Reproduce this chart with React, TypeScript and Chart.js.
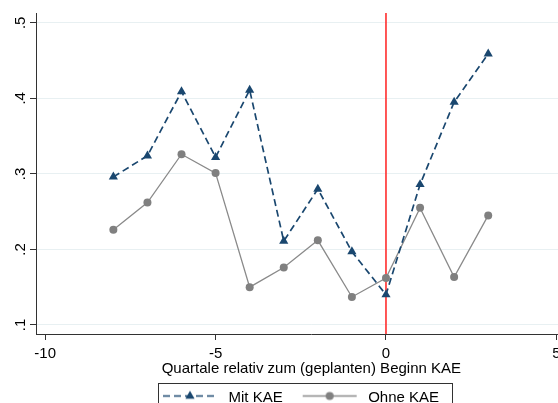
import React, { useEffect, useRef } from 'react';
import { Chart, registerables } from 'chart.js';

Chart.register(...registerables);

// ---- data ----
const quarters = [-8, -7, -6, -5, -4, -3, -2, -1, 0, 1, 2, 3];
const mitKAE = [0.296, 0.324, 0.409, 0.322, 0.411, 0.211, 0.28, 0.197, 0.14, 0.286, 0.395, 0.459];
const ohneKAE = [0.226, 0.262, 0.326, 0.301, 0.15, 0.176, 0.212, 0.137, 0.162, 0.255, 0.1635, 0.245];
const seriesNames = ['Mit KAE', 'Ohne KAE'];
const xTicks = [-10, -5, 0, 5];
const yTicks = [0.1, 0.2, 0.3, 0.4, 0.5];
const yTickLabels = ['.1', '.2', '.3', '.4', '.5'];
const xTitle = 'Quartale relativ zum (geplanten) Beginn KAE';
const eventQuarter = 0;

const X_MIN = -10.27;
const X_MAX = 5.89;
const Y_MIN = 0.088;
const Y_MAX = 0.513;

// ---- style ----
const NAVY = 'rgb(26,71,111)';
const GRAY_M = 'rgb(128,128,128)';
const GRAY_L = 'rgb(138,138,138)';
const RED = 'rgb(255,45,45)';
const AXIS = 'rgb(50,50,50)';
const GRID = 'rgb(232,240,242)';
const FONT = "'Liberation Sans', Arial, sans-serif";
const TRI_R = 5.3;
const CIRC_R = 4;
const DASH = [7, 4];

const W = 592;
const H = 415;

function makeLegendImage(kind: 'tri' | 'circ'): HTMLCanvasElement {
  const c = document.createElement('canvas');
  c.width = 68;
  c.height = 16;
  const g = c.getContext('2d')!;
  const cy = 6.5;
  g.lineWidth = kind === 'tri' ? 1.7 : 1.3;
  g.strokeStyle = kind === 'tri' ? NAVY : GRAY_L;
  if (kind === 'tri') g.setLineDash(DASH);
  g.beginPath();
  g.moveTo(10, cy);
  g.lineTo(64, cy);
  g.stroke();
  g.setLineDash([]);
  const cx = 37;
  if (kind === 'tri') {
    const r = TRI_R;
    g.fillStyle = NAVY;
    g.beginPath();
    g.moveTo(cx, cy - r);
    g.lineTo(cx + r * Math.sin((2 * Math.PI) / 3), cy - r * Math.cos((2 * Math.PI) / 3));
    g.lineTo(cx + r * Math.sin((4 * Math.PI) / 3), cy - r * Math.cos((4 * Math.PI) / 3));
    g.closePath();
    g.fill();
  } else {
    g.fillStyle = GRAY_M;
    g.beginPath();
    g.arc(cx, cy, CIRC_R, 0, Math.PI * 2);
    g.fill();
  }
  return c;
}

const legendBorder = {
  id: 'legendBorder',
  afterDraw(chart: any) {
    const lg = chart.legend;
    if (!lg || !lg.legendHitBoxes || !lg.legendHitBoxes.length) return;
    const hb = lg.legendHitBoxes;
    const first = hb[0];
    const last = hb[hb.length - 1];
    const l = Math.round(first.left + 5) + 0.5;
    const r = Math.round(last.left + last.width + 13) + 0.5;
    const t = Math.round(first.top - 7) + 0.5;
    const b = Math.round(first.top + first.height + 10) + 0.5;
    const ctx = chart.ctx;
    ctx.save();
    ctx.strokeStyle = AXIS;
    ctx.lineWidth = 1;
    ctx.strokeRect(l, t, r - l, b - t);
    ctx.restore();
  },
};

export default function App() {
  const ref = useRef<HTMLCanvasElement>(null);

  useEffect(() => {
    const canvas = ref.current!;
    const images = [makeLegendImage('tri'), makeLegendImage('circ')];
    Chart.defaults.font.family = FONT;
    Chart.defaults.font.size = 15;
    Chart.defaults.color = '#000';

    const chart = new Chart(canvas, {
      type: 'line',
      data: {
        datasets: [
          {
            label: seriesNames[0],
            data: quarters.map((q, i) => ({ x: q, y: mitKAE[i] })),
            borderColor: NAVY,
            backgroundColor: NAVY,
            borderWidth: 1.7,
            borderDash: DASH,
            pointStyle: 'triangle',
            pointRadius: TRI_R,
            pointBorderWidth: 0,
            pointBackgroundColor: NAVY,
            tension: 0,
          },
          {
            label: seriesNames[1],
            data: quarters.map((q, i) => ({ x: q, y: ohneKAE[i] })),
            borderColor: GRAY_L,
            backgroundColor: GRAY_M,
            borderWidth: 1.3,
            pointStyle: 'circle',
            pointRadius: CIRC_R,
            pointBorderWidth: 0,
            pointBackgroundColor: GRAY_M,
            tension: 0,
          },
          {
            label: 'event',
            data: [
              { x: eventQuarter, y: Y_MIN },
              { x: eventQuarter, y: Y_MAX },
            ],
            borderColor: RED,
            borderWidth: 1.6,
            pointRadius: 0,
            tension: 0,
          },
        ],
      },
      options: {
        animation: false,
        responsive: false,
        devicePixelRatio: 1,
        events: [],
        layout: { padding: { top: 13, left: 0, right: 0, bottom: 0 } },
        scales: {
          x: {
            type: 'linear',
            min: X_MIN,
            max: X_MAX,
            afterBuildTicks: (s: any) => {
              s.ticks = xTicks.map((v) => ({ value: v }));
            },
            afterFit: (s: any) => {
              s.height = 46;
            },
            grid: { drawOnChartArea: false, drawTicks: true, tickLength: 6, color: AXIS, tickColor: AXIS },
            border: { display: true, color: AXIS, width: 1 },
            ticks: {
              autoSkip: false,
              maxRotation: 0,
              padding: 5,
              color: '#000',
              font: { size: 15, family: FONT },
              callback: (v: any) => String(v),
            },
            title: {
              display: true,
              text: xTitle,
              color: '#000',
              font: { size: 15, family: FONT },
              padding: { top: 0, bottom: 2 },
            },
          },
          y: {
            type: 'linear',
            min: Y_MIN,
            max: Y_MAX,
            afterBuildTicks: (s: any) => {
              s.ticks = yTicks.map((v) => ({ value: v }));
            },
            afterFit: (s: any) => {
              s.width = 36;
            },
            grid: { drawOnChartArea: true, drawTicks: true, tickLength: 6, color: GRID, tickColor: AXIS },
            border: { display: true, color: AXIS, width: 1 },
            ticks: {
              autoSkip: false,
              minRotation: 90,
              maxRotation: 90,
              crossAlign: 'center',
              padding: 3,
              color: '#000',
              font: { size: 15, family: FONT },
              callback: (v: any) => {
                const i = yTicks.findIndex((t) => Math.abs(t - v) < 1e-9);
                return i >= 0 ? yTickLabels[i] : '';
              },
            },
          },
        },
        plugins: {
          tooltip: { enabled: false },
          legend: {
            display: true,
            position: 'bottom',
            align: 'center',
            labels: {
              usePointStyle: true,
              pointStyleWidth: 68,
              padding: 10,
              color: '#000',
              font: { size: 15, family: FONT },
              filter: (item: any) => item.datasetIndex < 2,
              generateLabels: (ch: any) => {
                const base = (Chart.defaults.plugins.legend.labels as any).generateLabels(ch);
                return base.map((it: any) => ({
                  ...it,
                  pointStyle: it.datasetIndex < 2 ? images[it.datasetIndex] : it.pointStyle,
                  lineWidth: 0,
                }));
              },
            },
          },
        },
      } as any,
      plugins: [legendBorder],
    });

    return () => chart.destroy();
  }, []);

  return (
    <div
      style={{
        position: 'fixed',
        left: 0,
        top: 0,
        width: 558,
        height: 403,
        overflow: 'hidden',
        background: '#fff',
      }}
    >
      <canvas ref={ref} width={W} height={H} style={{ display: 'block', width: W, height: H }} />
    </div>
  );
}
